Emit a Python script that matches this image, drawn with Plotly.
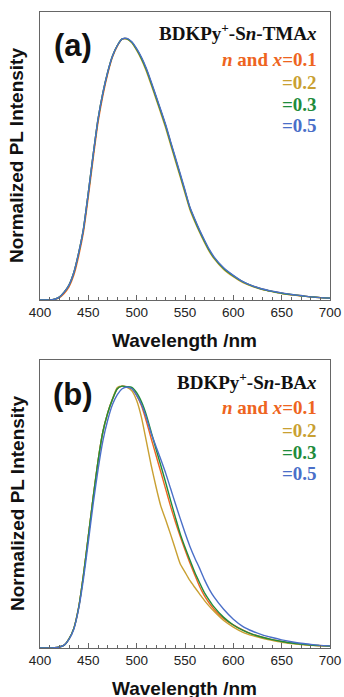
import plotly.graph_objects as go
from plotly.subplots import make_subplots

# ---------------- data ----------------
wavelength = [400, 410, 415, 420, 425, 430, 435, 440, 445, 450, 455, 460, 465, 470, 475,
              480, 485, 490, 495, 500, 505, 510, 515, 520, 525, 530, 535, 540, 545, 550,
              555, 560, 565, 570, 575, 580, 590, 600, 610, 620, 630, 640, 650, 660, 670,
              680, 690, 700]

series_labels = ["n and x=0.1", "=0.2", "=0.3", "=0.5"]
series_colors = ["#EE6420", "#C9A032", "#1F8C3C", "#4A6FC8"]

# panel (a): BDKPy+-Sn-TMAx
tma_01 = [0, 0, 0.002, 0.009, 0.025, 0.050, 0.095, 0.168, 0.260, 0.395, 0.540, 0.677, 0.780, 0.863, 0.928,
          0.970, 0.996, 0.998, 0.984, 0.957, 0.923, 0.880, 0.829, 0.775, 0.721, 0.665, 0.602, 0.540, 0.478, 0.415,
          0.352, 0.306, 0.264, 0.226, 0.190, 0.162, 0.120, 0.091, 0.068, 0.053, 0.041, 0.033, 0.026, 0.020, 0.016,
          0.012, 0.009, 0.007]
tma_02 = [0, 0, 0.003, 0.011, 0.030, 0.057, 0.105, 0.180, 0.273, 0.410, 0.555, 0.690, 0.790, 0.870, 0.932,
          0.972, 0.997, 0.997, 0.982, 0.953, 0.918, 0.874, 0.822, 0.768, 0.713, 0.657, 0.594, 0.532, 0.471, 0.408,
          0.346, 0.300, 0.259, 0.221, 0.186, 0.158, 0.117, 0.089, 0.066, 0.051, 0.040, 0.032, 0.025, 0.020, 0.016,
          0.012, 0.009, 0.007]
tma_03 = [0, 0, 0.003, 0.011, 0.030, 0.057, 0.105, 0.180, 0.273, 0.410, 0.555, 0.690, 0.790, 0.870, 0.932,
          0.972, 0.997, 0.998, 0.984, 0.957, 0.923, 0.880, 0.829, 0.775, 0.721, 0.665, 0.602, 0.540, 0.478, 0.415,
          0.352, 0.306, 0.264, 0.226, 0.190, 0.162, 0.120, 0.092, 0.069, 0.053, 0.041, 0.033, 0.026, 0.021, 0.016,
          0.012, 0.009, 0.007]
tma_05 = [0, 0, 0.003, 0.011, 0.030, 0.057, 0.105, 0.180, 0.273, 0.410, 0.555, 0.690, 0.790, 0.870, 0.932,
          0.972, 0.997, 0.999, 0.986, 0.960, 0.927, 0.885, 0.834, 0.780, 0.726, 0.670, 0.607, 0.545, 0.483, 0.420,
          0.356, 0.310, 0.268, 0.230, 0.194, 0.165, 0.123, 0.094, 0.070, 0.054, 0.042, 0.034, 0.027, 0.021, 0.017,
          0.012, 0.009, 0.007]

# panel (b): BDKPy+-Sn-BAx
ba_01 = [0, 0, 0.001, 0.004, 0.011, 0.035, 0.075, 0.155, 0.280, 0.427, 0.575, 0.713, 0.825, 0.897, 0.950,
         0.990, 1.000, 0.998, 0.990, 0.965, 0.925, 0.866, 0.800, 0.736, 0.672, 0.607, 0.542, 0.482, 0.427, 0.375,
         0.326, 0.280, 0.236, 0.200, 0.172, 0.148, 0.112, 0.088, 0.068, 0.052, 0.041, 0.032, 0.025, 0.019, 0.015,
         0.011, 0.009, 0.007]
ba_02 = [0, 0, 0.001, 0.004, 0.011, 0.035, 0.075, 0.155, 0.280, 0.427, 0.575, 0.713, 0.825, 0.897, 0.952,
         0.995, 1.000, 0.995, 0.982, 0.945, 0.880, 0.790, 0.698, 0.616, 0.542, 0.490, 0.435, 0.378, 0.322, 0.290,
         0.258, 0.232, 0.207, 0.182, 0.160, 0.140, 0.105, 0.080, 0.060, 0.047, 0.037, 0.029, 0.022, 0.017, 0.013,
         0.010, 0.008, 0.007]
ba_03 = [0, 0, 0.001, 0.004, 0.011, 0.035, 0.075, 0.155, 0.280, 0.427, 0.575, 0.713, 0.825, 0.897, 0.950,
         0.990, 1.000, 0.998, 0.995, 0.975, 0.940, 0.890, 0.825, 0.760, 0.697, 0.632, 0.565, 0.500, 0.437, 0.385,
         0.337, 0.290, 0.250, 0.212, 0.183, 0.157, 0.117, 0.088, 0.067, 0.052, 0.041, 0.032, 0.025, 0.019, 0.015,
         0.011, 0.009, 0.007]
ba_05 = [0, 0, 0.001, 0.004, 0.011, 0.033, 0.072, 0.150, 0.265, 0.405, 0.550, 0.680, 0.790, 0.870, 0.930,
         0.968, 0.990, 0.997, 0.990, 0.965, 0.930, 0.880, 0.820, 0.770, 0.720, 0.668, 0.610, 0.552, 0.495, 0.440,
         0.389, 0.345, 0.305, 0.262, 0.225, 0.195, 0.148, 0.110, 0.082, 0.064, 0.050, 0.040, 0.031, 0.024, 0.018,
         0.014, 0.010, 0.008]

panel_labels = ["(a)", "(b)"]
panel_titles = ["<b>BDKPy<sup>+</sup>-S<i>n</i>-TMA<i>x</i></b>",
                "<b>BDKPy<sup>+</sup>-S<i>n</i>-BA<i>x</i></b>"]
legend_texts = ["<b><i>n</i> and <i>x</i>=0.1</b>", "<b>=0.2</b>", "<b>=0.3</b>", "<b>=0.5</b>"]
x_ticks = [400, 450, 500, 550, 600, 650, 700]
x_title = "Wavelength /nm"
y_title = "Normalized PL Intensity"

# ---------------- figure ----------------
W, H = 344, 697
L, R, T, B = 40, 13.5, 12, 49
pw, ph = W - L - R, H - T - B

def px(xp):
    return (xp - L) / pw

def py(yp):
    return (H - B - yp) / ph

fig = make_subplots(rows=2, cols=1, vertical_spacing=60 / ph)

panels = [[tma_01, tma_02, tma_03, tma_05], [ba_01, ba_02, ba_03, ba_05]]
for r, ser in enumerate(panels, start=1):
    for vals, name, col in zip(ser, series_labels, series_colors):
        fig.add_trace(go.Scatter(x=wavelength, y=vals, mode="lines", name=name,
                                 line=dict(color=col, width=1.4, shape="spline", smoothing=0.6),
                                 showlegend=False, hoverinfo="skip"), row=r, col=1)

axis_line = "#666666"
for r in (1, 2):
    fig.update_xaxes(range=[400, 700], tickvals=x_ticks, ticks="inside", ticklen=5,
                     tickcolor=axis_line, tickwidth=1, automargin=False,
                     minor=dict(dtick=10, ticks="inside", ticklen=3, tickcolor=axis_line),
                     showline=True, linecolor=axis_line, linewidth=1.2, mirror=True,
                     showgrid=False, zeroline=False,
                     tickfont=dict(family="Arial, Liberation Sans", size=13.5, color="#222"),
                     row=r, col=1)
    fig.update_yaxes(range=[0, 1.1], showticklabels=False, ticks="", automargin=False,
                     showline=True, linecolor=axis_line, linewidth=1.2, mirror=True,
                     showgrid=False, zeroline=False, row=r, col=1)

ann = []
sans = "Arial, Liberation Sans"
serif = "Times New Roman, Liberation Serif"
frame_tops = [12, 360]
for i, top in enumerate(frame_tops):
    bottom = top + 288
    # axis titles
    ann.append(dict(text="<b>" + x_title + "</b>", x=px(185), y=py(bottom + 40),
                    font=dict(family=sans, size=19, color="#111")))
    ann.append(dict(text="<b>" + y_title + "</b>", x=px(17), y=py(top + 144), textangle=-90,
                    font=dict(family=sans, size=19, color="#111")))
    # panel label
    ann.append(dict(text="<b>" + panel_labels[i] + "</b>", x=px(73), y=py(top + 34),
                    font=dict(family=sans, size=31, color="#111")))
    # legend-like texts
    ann.append(dict(text=panel_titles[i], x=px(319.5), y=py(top + 20.5), xanchor="right",
                    font=dict(family=serif, size=19, color="#111")))
    ys = [47.8, 70.5, 92.5, 114]
    for t, c, yy in zip(legend_texts, series_colors, ys):
        ann.append(dict(text=t, x=px(319.5), y=py(top + yy), xanchor="right",
                        font=dict(family=serif, size=19, color=c)))

for a in ann:
    a.setdefault("xanchor", "center")
    a.update(xref="paper", yref="paper", yanchor="middle", showarrow=False)

fig.update_layout(width=W, height=H, margin=dict(l=L, r=R, t=T, b=B, autoexpand=False),
                  paper_bgcolor="white", plot_bgcolor="white", annotations=ann,
                  hovermode=False)

fig.write_html("out.html", config={"displayModeBar": False},
               post_script="document.body.style.margin='0';document.body.style.overflow='hidden';")
